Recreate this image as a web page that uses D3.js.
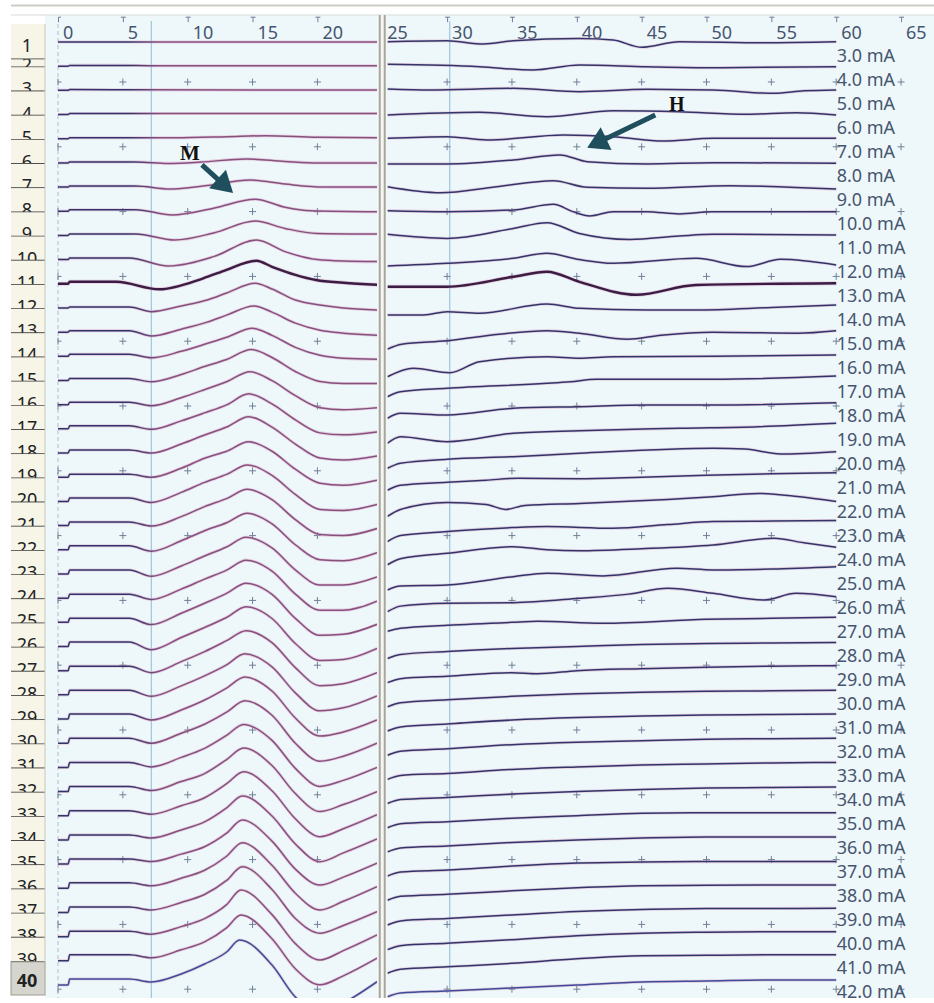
<!DOCTYPE html>
<html>
<head>
<meta charset="utf-8">
<script src="https://cdn.jsdelivr.net/npm/d3@7"></script>
<style>
  body { margin: 0; background: #fff; }
  svg { display: block; }
  text { font-family: "Noto Sans", "Open Sans", sans-serif; }
</style>
</head>
<body>
<div id="chart"></div>
<script>
// stimulus intensity for each sweep (row 1 .. 40)
const currentsMa = [3,4,5,6,7,8,9,10,11,12,13,14,15,16,17,18,19,20,21,22,23,24,25,26,27,28,29,30,31,32,33,34,35,36,37,38,39,40,41,42];
const tickMs = [0,5,10,15,20,25,30,35,40,45,50,55,60,65];
const cursorMs = [7.2, 30.2];

// left window (0 - 24.6 ms): [ms, offset], offset in 0.1 mV, up = positive
const leftTraces = [
  [[0,0],[24.6,0]],
  [[0,0],[0.78,0],[0.9,0.8],[5,0.8],[7.2,0.5],[24.6,0.5]],
  [[0,0],[0.78,0],[0.9,0.8],[7.2,0.5],[24.6,0.3]],
  [[0,0],[0.78,0],[0.9,1],[24.6,1]],
  [[0,0],[0.78,0],[0.9,1],[9,1],[13,2],[16,3],[20,1.5],[24.6,1]],
  [[0,0],[0.78,0],[0.9,1],[6,1],[8.5,-0.5],[11,0.8],[14.5,4],[17.5,1.5],[20,0],[24.6,0]],
  [[0,0],[0.78,0],[0.9,1],[6,1],[8.6,-2],[11.5,1.5],[14.8,7],[17.5,3],[20.5,0],[24.6,0]],
  [[0,0],[0.78,0],[0.9,1.5],[6,1.5],[8.8,-3.7],[12,3],[15.2,12],[17.5,4],[19.5,0.5],[24.6,-0.5]],
  [[0,0],[0.78,0],[0.9,1.5],[6,1.5],[9,-4.6],[12,2.5],[15.2,14.4],[17.5,7],[20,2],[24.6,1.4]],
  [[0,0],[0.78,0],[0.9,1.5],[5.5,1.5],[8.5,-6.4],[12,3],[15.3,19.6],[17.5,8],[20,0],[22,-1.5],[24.6,-2]],
  [[0,0],[0.78,0],[0.9,2],[4.5,2],[7.8,-5.5],[11.2,5.5],[12.8,13],[15.3,23],[16.5,17],[18.3,9],[19.9,3.8],[22,1],[24.6,-1]],
  [[0,0],[0.78,0],[0.9,1],[5.5,1],[7.2,-3.7],[9.5,2],[11.5,8],[13,15],[15.2,24.7],[16.5,19],[18.3,8],[20.2,3],[22,0],[24.6,-2]],
  [[0,0],[0.78,0],[0.9,1.5],[5.5,1.5],[7.2,-3.8],[9.5,3],[11.5,10],[13,17],[15.1,26.2],[16.5,20],[18.3,9],[20.2,2],[22,-1],[24.6,-3]],
  [[0,0],[0.78,0],[0.9,2],[5.5,2],[7.2,-1.5],[9.5,5],[11.3,12],[13,19],[15,28],[16.5,21],[18.3,9],[20.2,1],[22,-2],[24.6,-3]],
  [[0,0],[0.78,0],[0.9,2],[5.5,2],[7.2,-1.2],[9.5,6],[11.3,14],[13,21],[14.9,31],[16.5,23],[18.3,9],[20.2,-1],[22,-3],[24.6,-3]],
  [[0,0],[0.78,0],[0.9,2.5],[5.5,2.5],[7.2,-1],[9.5,7],[11.3,15],[13,23],[14.8,33],[16.5,24],[18.3,9],[20.2,-3],[22,-5],[24.6,-3]],
  [[0,0],[0.78,0],[0.9,3],[5.5,3],[7.2,-0.5],[9.5,8],[11.3,16],[13,24],[14.7,35],[16.5,25],[18.3,9],[20.2,-4],[22,-6],[24.6,-3]],
  [[0,0],[0.78,0],[0.9,3],[5.5,3],[7.2,0],[9.5,9],[11.3,18],[13,26],[14.7,36.4],[16.5,26],[18.3,9],[20.2,-5],[22,-7],[24.6,-3]],
  [[0,0],[0.78,0],[0.9,3],[5.5,3],[7.2,0],[9.5,9],[11.3,19],[13,26],[14.7,35.5],[16.5,26],[18.3,8],[20.2,-6],[22,-8],[24.6,-3]],
  [[0,0],[0.78,0],[0.9,3.5],[5.5,3.5],[7.2,-1],[9.5,9],[11.3,19],[13,27],[14.6,36.4],[16.5,26],[18.3,7],[20.2,-8],[22,-9],[24.6,-3]],
  [[0,0],[0.78,0],[0.9,3.5],[5.5,3.5],[7.2,-0.5],[9.5,9],[11.3,19],[13,27],[14.6,36.3],[16.5,26],[18.3,6],[20.2,-9],[22,-10],[24.6,-3]],
  [[0,0],[0.78,0],[0.9,4],[5.5,4],[7.2,-1.5],[9.5,9],[11.3,19],[13,27],[14.6,36.5],[16.5,26],[18.3,5],[20.2,-10],[22,-11],[24.6,-3]],
  [[0,0],[0.78,0],[0.9,4],[5.5,4],[7.2,-2.3],[9.5,8],[11.3,18],[13,27],[14.5,36.7],[16.5,26],[18.3,4],[20.2,-11],[22,-11],[24.6,-3]],
  [[0,0],[0.78,0],[0.9,4],[5.5,4],[7.2,-1.4],[9.5,9],[11.3,19],[13,28],[14.5,38],[16.5,27],[18.3,4],[20.2,-12],[22,-12],[24.6,-3]],
  [[0,0],[0.78,0],[0.9,4],[5.5,4],[7.2,-2.3],[9.5,9],[11.3,19],[13,29],[14.5,39],[16.5,28],[18.3,4],[20.2,-13],[22,-12],[24.6,-2]],
  [[0,0],[0.78,0],[0.9,4.5],[5.5,4.5],[7.2,-3.2],[9.5,9],[11.3,19],[13,29],[14.5,39.8],[16.5,28],[18.3,3],[20.2,-14],[22,-13],[24.6,-2]],
  [[0,0],[0.78,0],[0.9,4.5],[5.5,4.5],[7.2,-2],[9.5,9],[11.3,19],[13,30],[14.5,40],[16.5,28],[18.3,3],[20.2,-15],[22,-13],[24.6,-2]],
  [[0,0],[0.78,0],[0.9,4.5],[5.5,4.5],[7.2,-1.5],[9.5,9],[11.3,19],[13,30],[14.4,41],[16.5,28],[18.3,2],[20.2,-16],[22,-13],[24.6,-1]],
  [[0,0],[0.78,0],[0.9,5],[5.5,5],[7.2,-1],[9.5,9],[11.3,19],[13,31],[14.4,42],[16.5,28],[18.3,1],[20.2,-17],[22,-13],[24.6,-1]],
  [[0,0],[0.78,0],[0.9,5],[5.5,5],[7.2,0],[9.5,10],[11.3,19],[13,31],[14.4,42.5],[16.5,28],[18.3,0],[20.2,-18],[22,-13],[24.6,0]],
  [[0,0],[0.78,0],[0.9,5],[5.5,5],[7.2,0.5],[9.5,10],[11.3,19],[13,32],[14.3,43],[16.5,27],[18.3,-1],[20.2,-19],[22,-13],[24.6,0]],
  [[0,0],[0.78,0],[0.9,5],[5.5,5],[7.2,1],[9.5,10],[11.3,18],[13,32],[14.3,43.5],[16.5,26],[18.3,-2],[20.2,-20],[22,-13],[24.6,0]],
  [[0,0],[0.78,0],[0.9,5],[5.5,5],[7.2,1.5],[9.5,10],[11.3,18],[13,32],[14.3,44],[16.5,25],[18.3,-3],[20.2,-21],[22,-13],[24.6,1]],
  [[0,0],[0.78,0],[0.9,5],[5.5,5],[7.2,2],[9.5,10],[11.3,18],[13,32],[14.2,44],[16.5,24],[18.3,-4],[20.2,-21.8],[22,-13],[24.6,1]],
  [[0,0],[0.78,0],[0.9,5],[5.5,5],[7.2,2.5],[9.5,10],[11.3,17.4],[13,31],[14.2,44.1],[16.5,23],[18.3,-5],[20.2,-21],[22,-13],[24.6,1]],
  [[0,0],[0.78,0],[0.9,5.5],[5.5,5.5],[7.2,2.5],[9.5,10],[11.3,18],[13,32],[14.2,45.6],[16.5,23],[18.3,-5],[20.2,-21.7],[22,-13],[24.6,1.7]],
  [[0,0],[0.78,0],[0.9,5.5],[5.5,5.5],[7.2,2.5],[9.5,10],[11.3,18],[13,32],[14.2,45.8],[16.5,23],[18.3,-6],[20.2,-20.8],[22,-13],[24.6,0.8]],
  [[0,0],[0.78,0],[0.9,5.5],[5.5,5.5],[7.2,2.5],[9.5,10],[11.3,18],[13,32],[14.1,46.7],[16.5,22],[18.3,-7],[20.2,-23.3],[22,-14],[24.6,1.7]],
  [[0,0],[0.78,0],[0.9,6],[5.5,6],[7.2,3],[9.5,11],[11.3,19],[13,33],[14.1,45.8],[16.5,22],[18.3,-8],[20.2,-24],[22,-15],[24.6,2.6]],
  [[0,0],[0.78,0],[0.9,6],[5.5,6],[7.2,3],[9.5,11],[11.3,21],[13,33],[14,45],[16.5,20],[18.3,-12],[20.2,-28],[22,-18],[24.6,3.3]]
];

// right window (25.4 - 60 ms)
const rightTraces = [
  [[25.4,0.3],[30,1.2],[32.8,-2],[35.1,1.2],[40.2,3.5],[42.8,2],[45,-5.3],[47.9,0.3],[54.4,-0.7],[60,0.3]],
  [[25.4,1.9],[32.5,-0.5],[36.6,-3.8],[40.2,1.2],[45.4,-0.5],[50.5,-1.5],[60,-0.5]],
  [[25.4,1.4],[28.7,0.4],[35.1,2],[40.2,-1.3],[45.4,1],[50.5,0.4],[55.2,-3],[57.5,-0.5],[60,0.4]],
  [[25.4,-0.5],[32.5,2.2],[37.7,-2.2],[42.8,3.8],[47.9,2.8],[53.1,0.2],[56.9,1.8],[60,-0.5]],
  [[25.4,0.4],[30,2],[33.1,-1.3],[39,3.7],[42.8,2],[46.7,-2.3],[50.5,0.4],[60,0.4]],
  [[25.4,-1],[30,-1],[35.1,3],[38.7,8],[40.8,1.2],[45.4,-1],[50.5,0.2],[60,-0.4]],
  [[25.4,0.4],[29.5,-5.6],[33.8,0.4],[38.2,6.4],[40.8,-0.2],[45.4,-1.2],[51.8,1.4],[60,-2]],
  [[25.4,0.6],[30,-0.4],[35.1,1.3],[38.2,7],[39.7,-0.4],[41,-4.7],[42.8,-0.4],[45.4,-0.4],[47.9,-2.7],[50.5,-0.5],[60,-0.4]],
  [[25.4,1.1],[30,-3],[35.1,7],[37.7,12.7],[40.2,2],[44.1,-4],[47.9,-0.6],[50.5,1.1],[60,0.4]],
  [[25.4,-6.4],[30,-3.7],[35.1,1.3],[37.7,6.3],[40.2,0],[42.8,-3.7],[49.2,1.3],[53.1,-7],[55.7,0.3],[60,-5.4]],
  [[25.4,-2.9],[30,-2.9],[35.1,7],[37.7,12],[40.2,2],[44.6,-11],[49.2,-1.2],[60,0.5]],
  [[25.4,-7],[28.2,-7],[30,-3.7],[32.5,-5.3],[37.7,4],[40.2,-0.3],[45.4,-2],[49.2,-2],[55,0.5],[60,3]],
  [[25.4,-17],[26.5,-12],[30,-8.5],[34,-2],[37.7,1.5],[40.2,-1],[43.9,-7],[46.5,-3],[50.5,0],[57,-1],[60,1.5]],
  [[25.4,-20.4],[27.4,-12],[30.2,-16.4],[32.5,-5.4],[37.7,-0.4],[40.2,-2],[42.8,-0.4],[50.5,0],[60,1.3]],
  [[25.4,-16.2],[26.4,-11.2],[30,-7.8],[37.7,-2.8],[39.5,-1.2],[41.5,1.2],[50.5,1.2],[60,4.5]],
  [[25.4,-13.6],[26.4,-8.6],[30,-10.3],[35.1,-3.6],[40.2,-2],[45.4,-0.3],[50.5,-0.3],[60,2]],
  [[25.4,-14.4],[26.4,-7.8],[30,-12.8],[35.1,-4.4],[40.2,-1.8],[47.9,0.6],[54,2.2],[60,5.6]],
  [[25.4,-15.2],[26.4,-10.2],[30,-6.2],[35.1,-3.6],[40.2,-0.2],[50.5,4.8],[53,4],[55.7,-0.9],[60,1.4]],
  [[25.4,-13],[26.4,-8],[30,-5],[33,-3],[35.5,-1],[40,-1.5],[45,0],[50,2],[55,3.5],[60,4.5]],
  [[25.4,-15],[26.4,-8],[30,-1],[33,-3],[34.5,-8],[36,-4],[40.2,-2],[47,2],[50.5,4.7],[54,8],[57,5],[60,0]],
  [[25.4,-16],[26.4,-10],[30,-6],[35,-2],[37.7,-1],[42.8,-2.7],[47,1],[50.5,4],[55,4.5],[60,5]],
  [[25.4,-15],[26.4,-9],[30,-3.5],[35.1,3],[37.7,0],[40.2,-1],[45,1],[50.5,4.8],[55.2,11.5],[57.5,7],[60,2.5]],
  [[25.4,-16],[26.4,-12],[30,-11],[35.1,-2.7],[37.7,0.7],[42,-2],[47.7,5.7],[50.5,4],[55,5],[60,7.3]],
  [[25.4,-13.6],[26.4,-8],[30,-5.2],[35.1,-4.6],[40.2,-0.2],[44,4],[47,9.8],[50.5,4.8],[54.4,-1.9],[56.9,4.8],[60,1.4]],
  [[25.4,-9],[26.4,-6],[30,-3],[35,0],[37,1],[42,-1],[50,3],[55,4],[60,5]],
  [[25.4,-12],[26.4,-8],[30,-5],[35,-2],[40,0],[45,2],[50,3],[55,3.5],[60,4]],
  [[25.4,-12],[26.4,-8],[30,-5.5],[35,-2],[37,-3],[40,0],[45,2],[50,3.5],[55,4.5],[60,5]],
  [[25.4,-12],[26.4,-8],[30,-5],[35,-1.5],[40,1],[45,2.5],[50,3.5],[55,4],[60,4.5]],
  [[25.4,-12],[26.4,-8],[30,-5],[35,-1],[40,1.5],[45,3],[50,4],[55,4.5],[60,5]],
  [[25.4,-12],[26.4,-8],[30,-5.5],[35,-1.5],[40,1],[45,2.5],[50,4],[55,4.5],[60,5]],
  [[25.4,-12],[26.4,-8],[30,-6],[35,-2],[40,0.5],[45,2.5],[50,3.5],[55,4.5],[60,5]],
  [[25.4,-12],[26.4,-8],[30,-6],[35,-2.5],[40,0],[45,2],[50,3.5],[55,4],[60,4.5]],
  [[25.4,-12],[26.4,-8],[30,-6],[35,-2.5],[40,0],[45,2.5],[50,3],[55,3],[60,3]],
  [[25.4,-12],[26.4,-8],[30,-6],[35,-2.5],[40,0],[45,2],[50,3],[55,3],[60,3]],
  [[25.4,-12],[26.4,-8],[30,-6],[35,-2],[40,1],[45,2],[50,2.5],[55,2.5],[60,2.5]],
  [[25.4,-12],[26.4,-8],[30,-6],[35,-2.5],[40,0.5],[45,2.5],[50,3],[55,3.4],[60,3.4]],
  [[25.4,-12.5],[26.4,-8.5],[30,-6],[35,-2.5],[40,1],[45,3],[50,4],[55,4],[60,4.2]],
  [[25.4,-13],[26.4,-9],[30,-6.5],[35,-3],[40,1],[45,3.5],[50,4.5],[55,5],[60,5]],
  [[25.4,-12.4],[26.4,-8.5],[30,-6],[35,-2.5],[40,2],[45,5],[50,5.5],[55,6],[60,6]],
  [[25.4,-11.7],[26.4,-8],[30,-6],[35,-3],[40,0],[45,3],[50,4],[55,5],[60,5]]
];

const W = 934, H = 1003;
const svg = d3.select("#chart").append("svg").attr("width", W).attr("height", H);

const x = d3.scaleLinear().domain([0, 65]).range([58, 58 + 65 * 12.97]);
const yRow = d3.scaleLinear().domain([1, 40]).range([42, 985]);
const yLabel = d3.scaleLinear().domain([1, 40]).range([61.7, 998]);
const yGrid = d3.scaleLinear().domain([0, 15]).range([17.2, 17.2 + 15 * 64.8]);
const yAmp = d3.scaleLinear().domain([0, 10]).range([0, -10]);

const plotTop = 15, plotBottom = 998;
const navy = "#30366a", mauve = "#87507f", gridCol = "#6f7f96", textCol = "#46556f";

// backgrounds
svg.append("rect").attr("width", W).attr("height", H).attr("fill", "#fff");
svg.append("line").attr("x1", 11).attr("x2", W).attr("y1", 5.5).attr("y2", 5.5)
  .attr("stroke", "#cdcdc7").attr("stroke-width", 2);
svg.append("rect").attr("x", 45).attr("y", plotTop).attr("width", W - 45).attr("height", plotBottom - plotTop)
  .attr("fill", "#eef8fb");
svg.append("line").attr("x1", 11).attr("x2", W).attr("y1", plotTop).attr("y2", plotTop)
  .attr("stroke", "#d6dadb").attr("stroke-width", 1);

const defs = svg.append("defs");
defs.append("clipPath").attr("id", "clipL").append("rect")
  .attr("x", x(0) - 1).attr("y", plotTop).attr("width", x(24.6) - x(0) + 1).attr("height", plotBottom - plotTop);
defs.append("clipPath").attr("id", "clipR").append("rect")
  .attr("x", x(25.4)).attr("y", plotTop).attr("width", x(60) - x(25.4) + 1).attr("height", plotBottom - plotTop);
const grad = defs.append("linearGradient").attr("id", "leftCol")
  .attr("gradientUnits", "userSpaceOnUse").attr("x1", x(0)).attr("x2", x(24.6)).attr("y1", 0).attr("y2", 0);
grad.append("stop").attr("offset", "0%").attr("stop-color", navy);
grad.append("stop").attr("offset", "22%").attr("stop-color", navy);
grad.append("stop").attr("offset", "32%").attr("stop-color", mauve);
grad.append("stop").attr("offset", "100%").attr("stop-color", mauve);

// zero line (dashed) and cursor lines
svg.append("line").attr("x1", x(0)).attr("x2", x(0)).attr("y1", 24).attr("y2", plotBottom)
  .attr("stroke", "#b3bcc6").attr("stroke-dasharray", "4,3");
svg.selectAll(".cursor").data(cursorMs).join("line").attr("class", "cursor")
  .attr("x1", d => x(d)).attr("x2", d => x(d)).attr("y1", plotTop + 6).attr("y2", plotBottom)
  .attr("stroke", "#a3c8de").attr("stroke-width", 1.3);

// top axis
const axis = d3.axisBottom(x).tickValues(tickMs).tickSize(5).tickFormat(d3.format("d"));
const gAxis = svg.append("g").attr("transform", `translate(0,${yGrid(0)})`).call(axis);
gAxis.select(".domain").remove();
gAxis.selectAll(".tick line").attr("stroke", gridCol);
gAxis.selectAll(".tick").append("line").attr("x1", d => d === 0 ? 0 : -2.5).attr("x2", 2.5)
  .attr("stroke", gridCol);
gAxis.selectAll(".tick text").attr("y", 22).attr("dy", 0).attr("x", 4.5)
  .attr("text-anchor", "start").attr("fill", textCol)
  .style("font-size", "18px").style("font-family", "'Noto Sans', sans-serif");

// grid crosses
const crossMs = tickMs.filter(d => d !== 25);
const crossRows = d3.range(1, 16);
const crosses = [];
crossRows.forEach(k => crossMs.forEach(t => crosses.push([t, k])));
const gc = svg.append("g").attr("stroke", gridCol).attr("stroke-width", 1);
gc.selectAll("path").data(crosses).join("path")
  .attr("d", d => {
    const cx = x(d[0]), cy = yGrid(d[1]);
    const l = d[0] === 0 ? 0 : 3.5;
    return `M${cx - l},${cy}H${cx + 3.5}M${cx},${cy - 3.5}V${cy + 3.5}`;
  });

// traces: a soft pink fringe under each dark line, like the original screen capture
const line = d3.line().curve(d3.curveMonotoneX);
function tracePath(pts, row) {
  return line(pts.map(p => [x(p[0]), yRow(row) + yAmp(p[1])]));
}
function traceStroke(row, base) { return row === 11 ? "#3b1d44" : row === 40 ? "#3d4c98" : base; }
function traceWidth(row) { return row === 11 ? 2.4 : 1.5; }

function drawPanel(traces, clipId, base) {
  const g = svg.append("g").attr("clip-path", `url(#${clipId})`);
  g.selectAll("path.halo").data(traces).join("path").attr("class", "halo")
    .attr("d", (d, i) => tracePath(d, i + 1))
    .attr("fill", "none").attr("stroke", "#d49bbd").attr("stroke-opacity", 0.45)
    .attr("stroke-width", (d, i) => traceWidth(i + 1) + 1.6);
  g.selectAll("path.trace").data(traces).join("path").attr("class", "trace")
    .attr("d", (d, i) => tracePath(d, i + 1))
    .attr("fill", "none")
    .attr("stroke", (d, i) => traceStroke(i + 1, base))
    .attr("stroke-width", (d, i) => traceWidth(i + 1));
}
drawPanel(leftTraces, "clipL", "url(#leftCol)");
drawPanel(rightTraces, "clipR", navy);

// divider between the two windows
const xd = (x(24.6) + x(25.4)) / 2;
svg.append("rect").attr("x", xd - 4.5).attr("y", plotTop).attr("width", 9).attr("height", plotBottom - plotTop)
  .attr("fill", "#f5f5f1");
svg.selectAll(".div").data([-2.5, 2.5]).join("line").attr("class", "div")
  .attr("x1", d => xd + d).attr("x2", d => xd + d).attr("y1", plotTop).attr("y2", plotBottom)
  .attr("stroke", "#a7a7a0").attr("stroke-width", 2);

// intensity labels
svg.append("g").selectAll("text").data(currentsMa).join("text")
  .attr("x", x(60) + 0.5).attr("y", (d, i) => yLabel(i + 1))
  .attr("fill", textCol).style("font-size", "18px")
  .text(d => d.toFixed(1) + " mA");

// row number column (each cell clips its own number, as in the original list)
const gRows = svg.append("g");
currentsMa.forEach((c, i) => {
  const row = i + 1;
  const last = row === 40;
  const top = row === 1 ? 24 : row === 2 ? 59.3 : last ? yRow(39) + 1 : yRow(row - 1) + 1;
  const bottom = row === 1 ? 59.3 : last ? 995 : yRow(row) + 1;
  defs.append("clipPath").attr("id", "cell" + row).append("rect")
    .attr("x", 11).attr("y", top).attr("width", 34).attr("height", bottom - top);
  gRows.append("rect").attr("x", 11).attr("y", top).attr("width", 34).attr("height", bottom - top)
    .attr("fill", last ? "#d5d5cd" : "#f6f5e8").attr("stroke", last ? "#9a9a92" : "none");
  gRows.append("text").attr("x", 27).attr("y", row === 1 ? 52 : last ? 987 : yRow(row) + 5)
    .attr("clip-path", `url(#cell${row})`)
    .attr("text-anchor", "middle").attr("fill", "#222")
    .style("font-size", "18px").style("font-weight", last ? "bold" : "normal")
    .text(row);
  if (!last) {
    gRows.append("line").attr("x1", 11).attr("x2", 45).attr("y1", bottom).attr("y2", bottom)
      .attr("stroke", "#3d3d3d").attr("stroke-width", 1.6);
  }
});
gRows.append("line").attr("x1", 45).attr("x2", 45).attr("y1", 24).attr("y2", 995)
  .attr("stroke", "#c8c7b6");

// annotations: M wave and H reflex
const arrowCol = "#1f4e5d";
function arrow(x0, y0, x1, y1) {
  const dx = x1 - x0, dy = y1 - y0, len = Math.hypot(dx, dy);
  const ux = dx / len, uy = dy / len, hl = 21, hw = 12.5;
  const bx = x1 - ux * hl, by = y1 - uy * hl;
  svg.append("line").attr("x1", x0).attr("y1", y0).attr("x2", bx + ux * 2).attr("y2", by + uy * 2)
    .attr("stroke", arrowCol).attr("stroke-width", 5);
  svg.append("path").attr("fill", arrowCol)
    .attr("d", `M${x1},${y1}L${bx - uy * hw},${by + ux * hw}L${bx + uy * hw},${by - ux * hw}Z`);
}
arrow(x(11.1), yRow(6) + 2, x(13.5), yRow(7) + 6);
arrow(x(46.05), yRow(4) + 0.5, x(40.8), yRow(5) + 9);
svg.append("text").attr("x", x(9.4)).attr("y", yRow(5) + 21.5)
  .style("font-family", "'Liberation Serif', serif").style("font-weight", "bold").style("font-size", "21px")
  .attr("fill", "#111").text("M");
svg.append("text").attr("x", x(47.1)).attr("y", yRow(4) - 4)
  .style("font-family", "'Liberation Serif', serif").style("font-weight", "bold").style("font-size", "20px")
  .attr("fill", "#111").text("H");
</script>
</body>
</html>
